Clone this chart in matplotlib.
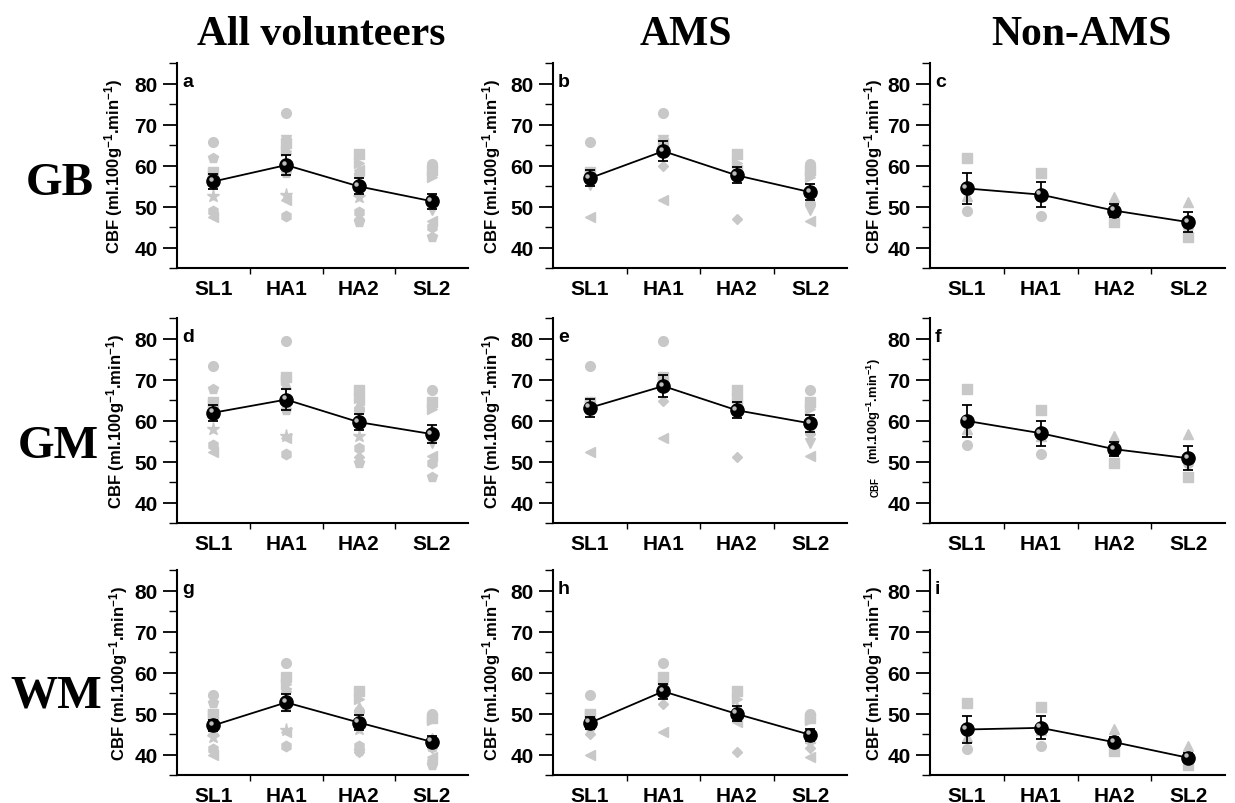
import matplotlib
matplotlib.use("Agg")
import matplotlib.pyplot as plt
import matplotlib.transforms as mtransforms
from matplotlib.ticker import FixedLocator, MultipleLocator

plt.rcParams['font.family'] = ['Liberation Sans', 'DejaVu Sans']
plt.rcParams['font.weight'] = 'bold'
plt.rcParams['mathtext.fontset'] = 'custom'
plt.rcParams['mathtext.rm'] = 'Liberation Sans:bold'
plt.rcParams['mathtext.bf'] = 'Liberation Sans:bold'
plt.rcParams['mathtext.default'] = 'bf'

# time points
sessions = ["SL1", "HA1", "HA2", "SL2"]

# individual volunteers, one row per subject (AMS n=7, Non-AMS n=3)
gb_ams = [[65.7, 72.8, 58.0, 60.4],
          [58.3, 65.5, 62.9, 59.0],
          [57.0, 64.0, 59.0, 52.0],
          [55.3, 66.3, 57.0, 49.2],
          [56.0, 59.8, 46.9, 50.5],
          [47.4, 51.6, 59.0, 46.5],
          [58.0, 63.5, 60.6, 57.2]]
gb_non = [[61.8, 58.2, 46.1, 42.5],
          [52.5, 52.7, 52.2, 51.0],
          [49.0, 47.8, 48.7, 45.1]]

gm_ams = [[73.3, 79.3, 62.5, 67.4],
          [64.5, 70.5, 67.4, 64.6],
          [63.0, 69.0, 64.0, 58.0],
          [62.5, 69.4, 62.0, 54.4],
          [62.0, 64.7, 51.1, 56.8],
          [52.4, 55.8, 65.0, 51.3],
          [64.0, 70.0, 65.4, 62.9]]
gm_non = [[67.7, 62.6, 49.6, 46.1],
          [58.0, 56.3, 56.2, 56.6],
          [54.0, 51.8, 53.2, 49.7]]

wm_ams = [[54.4, 62.3, 50.7, 49.9],
          [50.0, 58.9, 55.6, 49.0],
          [49.0, 56.4, 51.5, 44.0],
          [45.5, 55.0, 49.5, 42.6],
          [45.0, 52.4, 40.7, 41.5],
          [40.0, 45.6, 48.0, 39.3],
          [49.9, 57.2, 53.6, 48.3]]
wm_non = [[52.6, 51.5, 40.8, 37.4],
          [44.3, 46.0, 46.1, 42.0],
          [41.4, 42.0, 42.1, 38.2]]

# group means and SEM
gb_all_mean = [56.1, 60.1, 54.9, 51.3]
gb_all_err = [1.8, 2.4, 1.95, 1.85]
gb_ams_mean = [56.9, 63.5, 57.6, 53.5]
gb_ams_err = [2.0, 2.45, 1.95, 1.95]
gb_non_mean = [54.4, 52.9, 49.0, 46.2]
gb_non_err = [3.7, 3.0, 1.65, 2.35]

gm_all_mean = [61.9, 65.1, 59.6, 56.7]
gm_all_err = [1.95, 2.65, 2.0, 2.1]
gm_ams_mean = [63.1, 68.4, 62.5, 59.3]
gm_ams_err = [2.25, 2.7, 1.95, 2.15]
gm_non_mean = [59.9, 56.9, 53.0, 50.8]
gm_non_err = [3.9, 3.0, 1.75, 2.9]

wm_all_mean = [47.1, 52.7, 47.8, 43.1]
wm_all_err = [1.35, 2.1, 1.75, 1.3]
wm_ams_mean = [47.7, 55.4, 49.9, 44.8]
wm_ams_err = [1.55, 1.9, 1.85, 1.45]
wm_non_mean = [46.1, 46.5, 43.0, 39.2]
wm_non_err = [3.3, 2.8, 1.25, 1.1]

col_titles = ["All volunteers", "AMS", "Non-AMS"]
row_titles = ["GB", "GM", "WM"]
letters = "abcdefghi"

ams_markers = ['o', 's', '^', 'v', 'D', '<', '>']
non_markers = ['s', '^', 'o']
non_markers_all = ['p', '*', 'h']
marker_size = {'o': 7, 's': 6.5, '^': 7, 'v': 7, 'D': 5.5, '<': 7, '>': 7,
               'p': 7.5, '*': 9.5, 'h': 7.5}
GREY = '#c8c8c8'
ylab = "CBF (ml.100g$^{-1}$.min$^{-1}$)"
ylab_unit = "(ml.100g$^{-1}$.min$^{-1}$)"

W, H = 1235, 804
fig = plt.figure(figsize=(W / 100, H / 100), dpi=100)

col_left = [177, 553, 930]
col_width = [291, 294, 295]
row_top = [64, 319, 571]
ax_h = 205
# ylabel x position (axes fraction) per row, per column
label_x = [[-0.179, -0.170, -0.153],
           [-0.172, -0.170, -0.153],
           [-0.160, -0.170, -0.153]]


def draw_panel(ax, subjects, markers, mean, err, letter):
    x = list(range(1, len(sessions) + 1))
    for vals, m in zip(subjects, markers):
        ax.plot(x, vals, linestyle='none', marker=m, ms=marker_size[m],
                color=GREY, mec=GREY, zorder=2)
    ax.errorbar(x, mean, yerr=err, color='black', lw=1.3, elinewidth=1.3,
                capsize=3.6, capthick=1.3, zorder=4)
    ax.plot(x, mean, linestyle='none', marker='o', ms=9.5, color='black', zorder=5)
    # small highlight to mimic the shaded sphere symbols
    hl = mtransforms.offset_copy(ax.transData, fig=fig, x=-1.8, y=1.8, units='points')
    ax.plot(x, mean, linestyle='none', marker='o', ms=3.2, color='#bdbdbd',
            mec='none', transform=hl, zorder=6)

    ax.set_xlim(0.5, 4.5)
    ax.set_ylim(35, 85)
    ax.set_xticks(x)
    ax.set_xticklabels(sessions)
    ax.xaxis.set_minor_locator(FixedLocator([1.5, 2.5, 3.5]))
    ax.yaxis.set_major_locator(FixedLocator([40, 50, 60, 70, 80]))
    ax.yaxis.set_minor_locator(MultipleLocator(5))
    ax.tick_params(axis='x', which='major', length=0, pad=8, labelsize=15)
    ax.tick_params(axis='x', which='minor', direction='out', length=4, width=1)
    ax.tick_params(axis='y', which='major', direction='out', length=10, width=1.3,
                   labelsize=15, pad=4)
    ax.tick_params(axis='y', which='minor', direction='out', length=6, width=1)
    for lab in ax.get_xticklabels() + ax.get_yticklabels():
        lab.set_fontweight('bold')
    for side in ['top', 'right']:
        ax.spines[side].set_visible(False)
    for side in ['left', 'bottom']:
        ax.spines[side].set_linewidth(1.5)
    ax.text(0.017, 0.91, letter, transform=ax.transAxes, fontsize=14,
            fontweight='bold', ha='left', va='center')


region_data = [
    (gb_ams, gb_non, gb_all_mean, gb_all_err, gb_ams_mean, gb_ams_err, gb_non_mean, gb_non_err),
    (gm_ams, gm_non, gm_all_mean, gm_all_err, gm_ams_mean, gm_ams_err, gm_non_mean, gm_non_err),
    (wm_ams, wm_non, wm_all_mean, wm_all_err, wm_ams_mean, wm_ams_err, wm_non_mean, wm_non_err),
]

for r, (ams, non, am, ae, sm, se, nm, ne) in enumerate(region_data):
    panels = [
        (ams + non, ams_markers + non_markers_all, am, ae),
        (ams, ams_markers, sm, se),
        (non, non_markers, nm, ne),
    ]
    for c, (subj, mk, mean, err) in enumerate(panels):
        left = col_left[c] / W
        bottom = 1 - (row_top[r] + ax_h) / H
        ax = fig.add_axes([left, bottom, col_width[c] / W, ax_h / H])
        draw_panel(ax, subj, mk, mean, err, letters[r * 3 + c])
        if r == 1 and c == 2:
            # panel f has a smaller label with an even smaller "CBF"
            ax.set_ylabel(ylab_unit, fontsize=9.3, fontweight='bold')
            ax.yaxis.set_label_coords(-0.16, 0.55)
            ax.text(-0.168, 0.18, "CBF", transform=ax.transAxes, rotation=90,
                    fontsize=7, fontweight='bold', ha='right', va='center')
        else:
            ax.set_ylabel(ylab, fontsize=12, fontweight='bold')
            ax.yaxis.set_label_coords(label_x[r][c], 0.5)

title_x = [321, 686, 1081]
for t, xc in zip(col_titles, title_x):
    fig.text(xc / W, 1 - 45 / H, t, ha='center', va='baseline',
             family='Liberation Serif', fontweight='bold', fontsize=30)

row_x = [26, 18, 10]
row_base = [195, 458, 708]
for t, xl, yb in zip(row_titles, row_x, row_base):
    fig.text(xl / W, 1 - yb / H, t, ha='left', va='baseline',
             family='Liberation Serif', fontweight='bold', fontsize=34)

fig.savefig("out.png", dpi=100)
